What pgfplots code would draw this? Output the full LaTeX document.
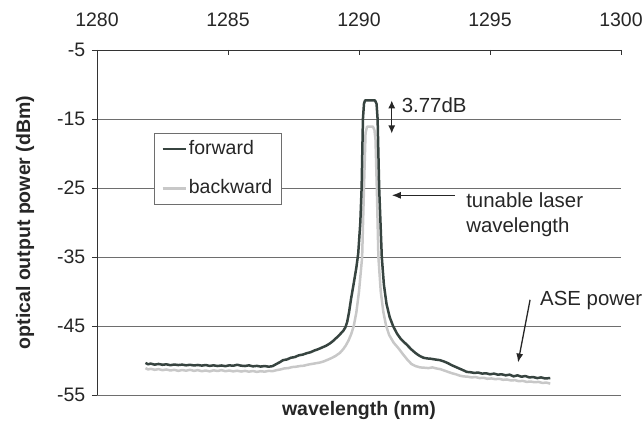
\documentclass[border=0pt]{standalone}
\usepackage{fontspec}
\setmainfont{Liberation Sans}
\usepackage{pgfplots}
\pgfplotsset{compat=1.18}
\usetikzlibrary{arrows.meta}
\definecolor{fwd}{RGB}{55,68,64}
\definecolor{bwd}{RGB}{200,200,200}
\definecolor{gridc}{RGB}{110,110,110}
\begin{document}
\fontsize{19.5bp}{23bp}\selectfont
\begin{tikzpicture}
\useasboundingbox (-97bp,-28bp) rectangle (546bp,395bp);
\begin{axis}[
  at={(0,0)}, anchor=south west,
  scale only axis, width=524bp, height=345bp,
  xmin=1280, xmax=1300, ymin=-55, ymax=-5,
  axis x line*=top, axis y line*=left,
  clip=false,
  xtick={1280,1285,1290,1295,1300},
  xticklabels={1280,1285,1290,1295,1300},
  ytick={-55,-45,-35,-25,-15,-5},
  yticklabels={-55,-45,-35,-25,-15,-5},
  xtick align=inside, ytick align=outside,
  major tick length=5bp,
  tick style={color=black!80, line width=0.8bp},
  axis line style={color=black!80, line width=0.8bp},
  ymajorgrids, major grid style={color=gridc, line width=0.8bp},
  xticklabel style={yshift=16.8bp},
  ticklabel style={font=\fontsize{19.5bp}{23bp}\selectfont, text=black!85},
  xlabel={\bfseries wavelength (nm)},
  ylabel={\bfseries optical output power (dBm)},
  every axis x label/.style={at={(axis description cs:0.5,-0.0435)}, anchor=center},
  every axis y label/.style={at={(axis description cs:-0.1374,0.5)}, anchor=center, rotate=90},
  label style={font=\fontsize{19.5bp}{23bp}\selectfont, text=black!85},
  legend style={at={(axis description cs:0.1088,0.7600)}, anchor=north west,
    draw=gridc, line width=0.8bp, fill=white, inner xsep=7bp, inner ysep=5.5bp,
    row sep=18bp, font=\fontsize{19.5bp}{23bp}\selectfont, text=black!85},
  legend cell align=left,
  reverse legend,
  legend image code/.code={\draw[#1, line width=2.5bp] (0bp,0bp) -- (23bp,0bp);},
]
\addplot[bwd, line width=2.5bp, line join=round] coordinates {
(1281.85,-51.10) (1281.95,-51.30) (1282.05,-51.20) (1282.20,-51.35) (1282.35,-51.25)
(1282.50,-51.40) (1282.65,-51.30) (1282.80,-51.45) (1282.95,-51.35) (1283.10,-51.50)
(1283.25,-51.38) (1283.40,-51.48) (1283.55,-51.35) (1283.70,-51.50) (1283.85,-51.40)
(1284.00,-51.55) (1284.15,-51.45) (1284.30,-51.58) (1284.45,-51.42) (1284.60,-51.52)
(1284.75,-51.40) (1284.90,-51.55) (1285.05,-51.45) (1285.20,-51.58) (1285.35,-51.48)
(1285.50,-51.60) (1285.65,-51.50) (1285.80,-51.62) (1285.95,-51.52) (1286.10,-51.65)
(1286.25,-51.55) (1286.40,-51.62) (1286.55,-51.50) (1286.70,-51.55) (1286.85,-51.40)
(1287.00,-51.30) (1287.15,-51.15) (1287.30,-51.10) (1287.45,-50.95) (1287.60,-50.90)
(1287.75,-50.80) (1287.90,-50.75) (1288.05,-50.60) (1288.20,-50.50) (1288.35,-50.40)
(1288.50,-50.30) (1288.64,-50.15) (1288.80,-49.90) (1288.95,-49.65) (1289.10,-49.35)
(1289.27,-48.90) (1289.40,-48.35) (1289.50,-47.80) (1289.60,-47.10) (1289.70,-46.20)
(1289.80,-45.00) (1289.90,-43.00) (1290.00,-40.00) (1290.12,-35.00) (1290.19,-25.00)
(1290.25,-17.00) (1290.31,-16.10) (1290.53,-16.10) (1290.59,-16.60) (1290.63,-18.00)
(1290.68,-25.00) (1290.74,-35.00) (1290.83,-40.00) (1290.93,-43.00) (1291.03,-44.90)
(1291.15,-46.30) (1291.32,-47.40) (1291.50,-48.20) (1291.68,-49.10) (1291.85,-49.90)
(1292.00,-50.50) (1292.15,-50.80) (1292.33,-51.00) (1292.50,-51.05) (1292.65,-51.10)
(1292.80,-51.00) (1292.95,-51.15) (1293.10,-51.25) (1293.25,-51.45) (1293.40,-51.65)
(1293.55,-51.85) (1293.70,-52.00) (1293.85,-52.20) (1293.98,-52.30) (1294.15,-52.35)
(1294.30,-52.45) (1294.45,-52.40) (1294.60,-52.55) (1294.75,-52.50) (1294.90,-52.65)
(1295.05,-52.60) (1295.20,-52.70) (1295.35,-52.65) (1295.50,-52.80) (1295.65,-52.75)
(1295.80,-52.90) (1295.95,-52.85) (1296.10,-53.00) (1296.25,-52.95) (1296.40,-53.10)
(1296.55,-53.05) (1296.70,-53.15) (1296.85,-53.10) (1297.00,-53.25) (1297.15,-53.20)
(1297.30,-53.35)
};
\addlegendentry{backward}
\addplot[fwd, line width=2.5bp, line join=round] coordinates {
(1281.85,-50.35) (1281.95,-50.55) (1282.05,-50.45) (1282.20,-50.60) (1282.35,-50.50)
(1282.50,-50.62) (1282.65,-50.55) (1282.80,-50.68) (1282.95,-50.58) (1283.10,-50.66)
(1283.25,-50.60) (1283.40,-50.70) (1283.55,-50.62) (1283.70,-50.72) (1283.85,-50.65)
(1284.00,-50.74) (1284.15,-50.66) (1284.30,-50.78) (1284.45,-50.70) (1284.60,-50.80)
(1284.75,-50.72) (1284.90,-50.82) (1285.05,-50.70) (1285.20,-50.76) (1285.35,-50.62)
(1285.50,-50.75) (1285.65,-50.80) (1285.80,-50.70) (1285.95,-50.85) (1286.10,-50.78)
(1286.25,-50.88) (1286.40,-50.80) (1286.55,-50.90) (1286.70,-50.82) (1286.85,-50.50)
(1287.00,-50.20) (1287.10,-49.95) (1287.25,-49.85) (1287.40,-49.60) (1287.55,-49.50)
(1287.70,-49.25) (1287.85,-49.15) (1288.00,-48.95) (1288.15,-48.80) (1288.30,-48.55)
(1288.45,-48.35) (1288.60,-48.10) (1288.75,-47.85) (1288.90,-47.50) (1289.00,-47.20)
(1289.10,-46.85) (1289.20,-46.50) (1289.30,-46.10) (1289.40,-45.70) (1289.48,-45.20)
(1289.55,-44.40) (1289.62,-43.00) (1289.70,-41.00) (1289.80,-38.80) (1289.90,-36.50)
(1289.97,-34.50) (1290.05,-30.00) (1290.10,-25.00) (1290.15,-15.00) (1290.19,-12.80)
(1290.23,-12.30) (1290.61,-12.30) (1290.67,-12.80) (1290.71,-15.00) (1290.77,-25.00)
(1290.82,-30.00) (1290.87,-35.00) (1290.95,-39.00) (1291.05,-41.80) (1291.17,-43.70)
(1291.30,-45.00) (1291.45,-46.10) (1291.60,-46.90) (1291.82,-47.70) (1292.00,-48.40)
(1292.15,-48.90) (1292.30,-49.30) (1292.46,-49.60) (1292.60,-49.70) (1292.75,-49.75)
(1292.90,-49.85) (1293.09,-49.95) (1293.25,-50.15) (1293.40,-50.40) (1293.55,-50.70)
(1293.70,-50.95) (1293.85,-51.20) (1294.00,-51.45) (1294.11,-51.65) (1294.25,-51.70)
(1294.40,-51.80) (1294.55,-51.75) (1294.70,-51.90) (1294.85,-51.85) (1295.00,-52.00)
(1295.15,-51.90) (1295.30,-52.05) (1295.45,-52.00) (1295.60,-52.15) (1295.75,-52.05)
(1295.90,-52.30) (1296.05,-52.15) (1296.20,-52.35) (1296.35,-52.25) (1296.50,-52.45)
(1296.65,-52.40) (1296.80,-52.55) (1296.95,-52.45) (1297.10,-52.60) (1297.30,-52.55)
};
\addlegendentry{forward}
\draw[{Latex[length=8bp,width=7bp]}-{Latex[length=8bp,width=7bp]}, line width=1.3bp, black!85]
  (axis cs:1291.25,-12.3) -- (axis cs:1291.25,-17.1);
\node[anchor=west, text=black!85, inner sep=6.5bp, font=\fontsize{20.4bp}{25bp}\selectfont] at (axis cs:1291.38,-12.93) {3.77dB};
\draw[-{Latex[length=9bp,width=7bp]}, line width=1.3bp, black!85]
  (axis cs:1293.66,-26.06) -- (axis cs:1291.25,-26.06);
\node[anchor=base west, align=left, text=black!85, inner sep=6.5bp, font=\fontsize{20.4bp}{25bp}\selectfont] at (axis cs:1293.84,-31.5) {tunable laser\\wavelength};
\draw[-{Latex[length=9bp,width=7bp]}, line width=1.3bp, black!85]
  (axis cs:1296.53,-41.2) -- (axis cs:1296.07,-50.3);
\node[anchor=base west, text=black!85, inner sep=6.5bp, font=\fontsize{20.4bp}{25bp}\selectfont] at (axis cs:1296.66,-42.1) {ASE power};
\end{axis}
\end{tikzpicture}
\end{document}
